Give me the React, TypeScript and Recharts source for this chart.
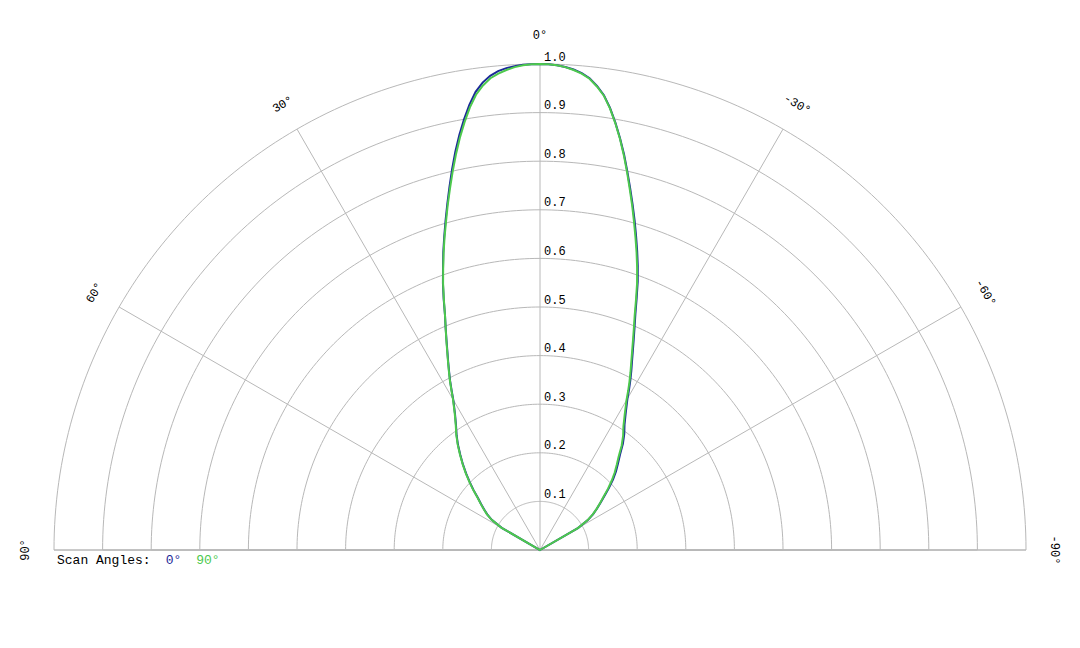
import React from 'react';
import {
  RadarChart,
  Radar,
  PolarGrid,
  PolarAngleAxis,
  PolarRadiusAxis,
  Legend,
} from 'recharts';

// scan angle names and colours, in legend order
const SCAN_ANGLES = ['0°', '90°'];
const COLORS = ['#1c2a98', '#4dc94d'];

// observation angle (deg), positive = left side of the plot
const THETA = [
  -90, -80, -70, -62,
  -60, -58, -56, -54, -52, -50, -48, -46, -44, -42, -40, -38, -36, -34, -32,
  -30, -29, -28, -27, -26, -25, -24, -23, -22, -21, -20, -19, -18, -17, -16,
  -15, -14, -13, -12, -11, -10, -9, -8, -7, -6, -5, -4, -3, -2, -1,
  0,
  1, 2, 3, 4, 5, 6, 7, 8, 9, 10, 11, 12, 13, 14, 15,
  16, 17, 18, 19, 20, 21, 22, 23, 24, 25, 26, 27, 28, 29, 30,
  32, 34, 36, 38, 40, 42, 44, 46, 48, 50, 52, 54, 56, 58, 60,
  62, 70, 80, 90,
];

// normalised pattern, scan angle 0°
const GAIN_SCAN_0 = [
  0, 0, 0, 0,
  0.091, 0.116, 0.132, 0.145, 0.158, 0.173, 0.191, 0.209, 0.225, 0.240, 0.256, 0.277, 0.295, 0.311, 0.333,
  0.360, 0.378, 0.396, 0.414, 0.432, 0.452, 0.474, 0.498, 0.524, 0.555, 0.588, 0.618, 0.647, 0.676, 0.706,
  0.736, 0.767, 0.799, 0.832, 0.863, 0.893, 0.921, 0.945, 0.962, 0.976, 0.985, 0.991, 0.995, 0.998, 0.9995,
  1.0,
  0.9997, 0.999, 0.997, 0.994, 0.989, 0.981, 0.969, 0.952, 0.928, 0.900, 0.870, 0.838, 0.804, 0.770, 0.737,
  0.705, 0.674, 0.644, 0.613, 0.584, 0.553, 0.522, 0.497, 0.473, 0.451, 0.431, 0.412, 0.394, 0.375, 0.357,
  0.330, 0.309, 0.292, 0.274, 0.255, 0.237, 0.219, 0.201, 0.184, 0.167, 0.154, 0.142, 0.131, 0.117, 0.091,
  0, 0, 0, 0,
];

// normalised pattern, scan angle 90°
const GAIN_SCAN_90 = [
  0, 0, 0, 0,
  0.090, 0.115, 0.131, 0.144, 0.157, 0.171, 0.188, 0.205, 0.221, 0.236, 0.252, 0.273, 0.291, 0.307, 0.329,
  0.356, 0.374, 0.392, 0.410, 0.428, 0.448, 0.470, 0.494, 0.520, 0.551, 0.584, 0.614, 0.643, 0.672, 0.702,
  0.733, 0.764, 0.797, 0.830, 0.862, 0.892, 0.920, 0.944, 0.961, 0.975, 0.984, 0.990, 0.995, 0.998, 0.9995,
  1.0,
  0.9995, 0.998, 0.995, 0.990, 0.984, 0.976, 0.963, 0.946, 0.922, 0.894, 0.864, 0.832, 0.799, 0.766, 0.734,
  0.702, 0.672, 0.642, 0.612, 0.583, 0.552, 0.522, 0.497, 0.474, 0.452, 0.432, 0.413, 0.395, 0.376, 0.358,
  0.331, 0.310, 0.293, 0.275, 0.256, 0.238, 0.220, 0.202, 0.185, 0.168, 0.155, 0.143, 0.132, 0.118, 0.092,
  0, 0, 0, 0,
];

const ANGLE_TICKS = [-90, -60, -30, 0, 30, 60, 90];
const RADIUS_TICKS = [0, 0.1, 0.2, 0.3, 0.4, 0.5, 0.6, 0.7, 0.8, 0.9, 1.0];

const rows = THETA.map((angle, i) => ({
  angle,
  s0: GAIN_SCAN_0[i],
  s90: GAIN_SCAN_90[i],
}));

// dense set of grid angles so the rings come out as half circles
const ARC = Array.from({ length: 181 }, (_, i) => i);

const FONT = '"Liberation Mono", "Courier New", monospace';
const GRID = '#b8b8b8';

const AngleTick = (props: any) => {
  const { x, y, payload } = props;
  const v = payload.value;
  return (
    <text
      x={x}
      y={y}
      transform={`rotate(${-v}, ${x}, ${y})`}
      textAnchor="middle"
      dominantBaseline="central"
      fontFamily={FONT}
      fontSize={12}
      fill="#000"
    >
      {`${v}°`}
    </text>
  );
};

const RadiusTick = (props: any) => {
  const { x, y, payload } = props;
  if (payload.value === 0) return <g />;
  return (
    <text
      x={x + 4}
      y={y - 6.5}
      dominantBaseline="central"
      fontFamily={FONT}
      fontSize={12}
      fill="#000"
    >
      {Number(payload.value).toFixed(1)}
    </text>
  );
};

const renderLegend = (props: any) => {
  const items = props.payload || [];
  return (
    <div style={{ fontFamily: FONT, fontSize: 13, color: '#000', whiteSpace: 'nowrap', lineHeight: '16px' }}>
      Scan Angles:
      {items.map((p: any, i: number) => (
        <span key={i} style={{ color: p.color || COLORS[i], marginLeft: 15 }}>
          {p.value}
        </span>
      ))}
    </div>
  );
};

export default function App() {
  return (
    <div style={{ width: 1064, height: 630 }}>
      <RadarChart
        width={1064}
        height={630}
        data={rows}
        cx={532}
        cy={542}
        outerRadius={486}
        startAngle={0}
        endAngle={180}
        margin={{ top: 0, right: 0, bottom: 0, left: 0 }}
      >
        <PolarGrid gridType="polygon" polarAngles={ARC} radialLines={false} stroke={GRID} />
        <PolarGrid gridType="polygon" polarRadius={[]} stroke={GRID} />
        <PolarAngleAxis
          dataKey="angle"
          type="number"
          domain={[-90, 90]}
          ticks={ANGLE_TICKS}
          tickCount={7}
          axisLine={false}
          tickLine={false}
          tickSize={28}
          tick={AngleTick}
        />
        <PolarRadiusAxis
          type="number"
          angle={90}
          domain={[0, 1]}
          ticks={RADIUS_TICKS}
          tickCount={11}
          axisLine={false}
          tick={RadiusTick}
        />
        <Radar
          name={SCAN_ANGLES[0]}
          dataKey="s0"
          stroke={COLORS[0]}
          strokeWidth={2}
          fill="none"
          fillOpacity={0}
          dot={false}
          isAnimationActive={false}
        />
        <Radar
          name={SCAN_ANGLES[1]}
          dataKey="s90"
          stroke={COLORS[1]}
          strokeWidth={2}
          fill="none"
          fillOpacity={0}
          dot={false}
          isAnimationActive={false}
        />
        <Legend
          verticalAlign="bottom"
          content={renderLegend}
          wrapperStyle={{ left: 49, top: 545, bottom: 'auto', width: 'auto' }}
        />
      </RadarChart>
    </div>
  );
}
